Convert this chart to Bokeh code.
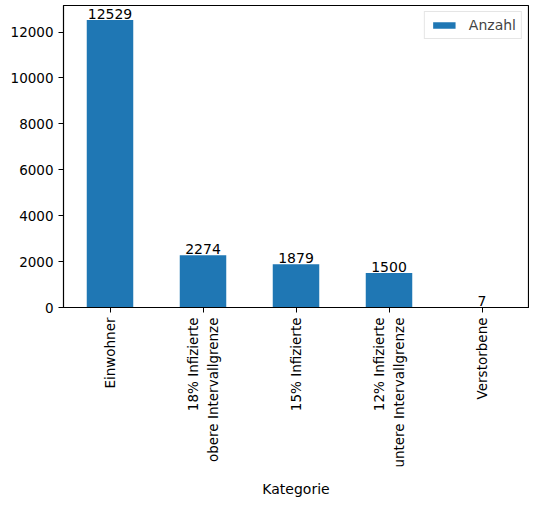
from math import pi

from bokeh.core.properties import value
from bokeh.embed import file_html
from bokeh.models import ColumnDataSource, FixedTicker, Legend, LegendItem, Range1d
from bokeh.plotting import figure
from bokeh.resources import INLINE

kategorien = ['Einwohner', '18% Infizierte\nobere Intervallgrenze', '15% Infizierte',
              '12% Infizierte\nuntere Intervallgrenze', 'Verstorbene']
anzahl = [12529, 2274, 1879, 1500, 7]
y_ticks = [0, 2000, 4000, 6000, 8000, 10000, 12000]

FONT = "DejaVu Sans"
BLUE = "#1f77b4"

pos = list(range(len(kategorien)))
src = ColumnDataSource(data=dict(x=pos, top=anzahl, label=[str(v) for v in anzahl]))

p = figure(width=529, height=504, output_backend="svg", toolbar_location=None,
           x_range=Range1d(-0.5, len(kategorien) - 0.5),
           y_range=Range1d(0, max(anzahl) * 1.05),
           min_border_left=63, min_border_right=1, min_border_top=5, min_border_bottom=197)

bars = p.vbar(x='x', top='top', width=0.5, source=src, fill_color=BLUE, line_color=None)
p.text(x='x', y='top', text='label', source=src, text_align='center', text_baseline='bottom',
       y_offset=-1, text_font=value(FONT), text_font_size="14px", text_color="black")

p.xgrid.visible = False
p.ygrid.visible = False
p.outline_line_color = "black"
p.outline_line_width = 1.2

p.xaxis.ticker = FixedTicker(ticks=pos)
p.xaxis.major_label_overrides = {i: k for i, k in enumerate(kategorien)}
p.xaxis.major_label_orientation = pi / 2
p.yaxis.ticker = FixedTicker(ticks=y_ticks)
p.xaxis.axis_label = "Kategorie"

for ax in (p.xaxis, p.yaxis):
    ax.axis_line_color = "black"
    ax.major_tick_line_color = "black"
    ax.major_tick_in = 0
    ax.major_tick_out = 5
    ax.minor_tick_line_color = None
    ax.major_label_standoff = 5
    ax.major_label_text_font = FONT
    ax.major_label_text_font_size = "13.5px"
    ax.major_label_text_color = "black"
    ax.axis_label_standoff = 10
    ax.axis_label_text_font = FONT
    ax.axis_label_text_font_size = "14px"
    ax.axis_label_text_font_style = "normal"
    ax.axis_label_text_color = "black"

legend = Legend(items=[LegendItem(label="Anzahl", renderers=[bars])], location="top_right",
                label_text_font=FONT, label_text_font_size="14px", label_height=15,
                label_standoff=11, glyph_width=28, glyph_height=8,
                border_line_color="#cccccc", margin=6, padding=5, spacing=0)
p.add_layout(legend)

open("out.html", "w").write(file_html(p, INLINE))
